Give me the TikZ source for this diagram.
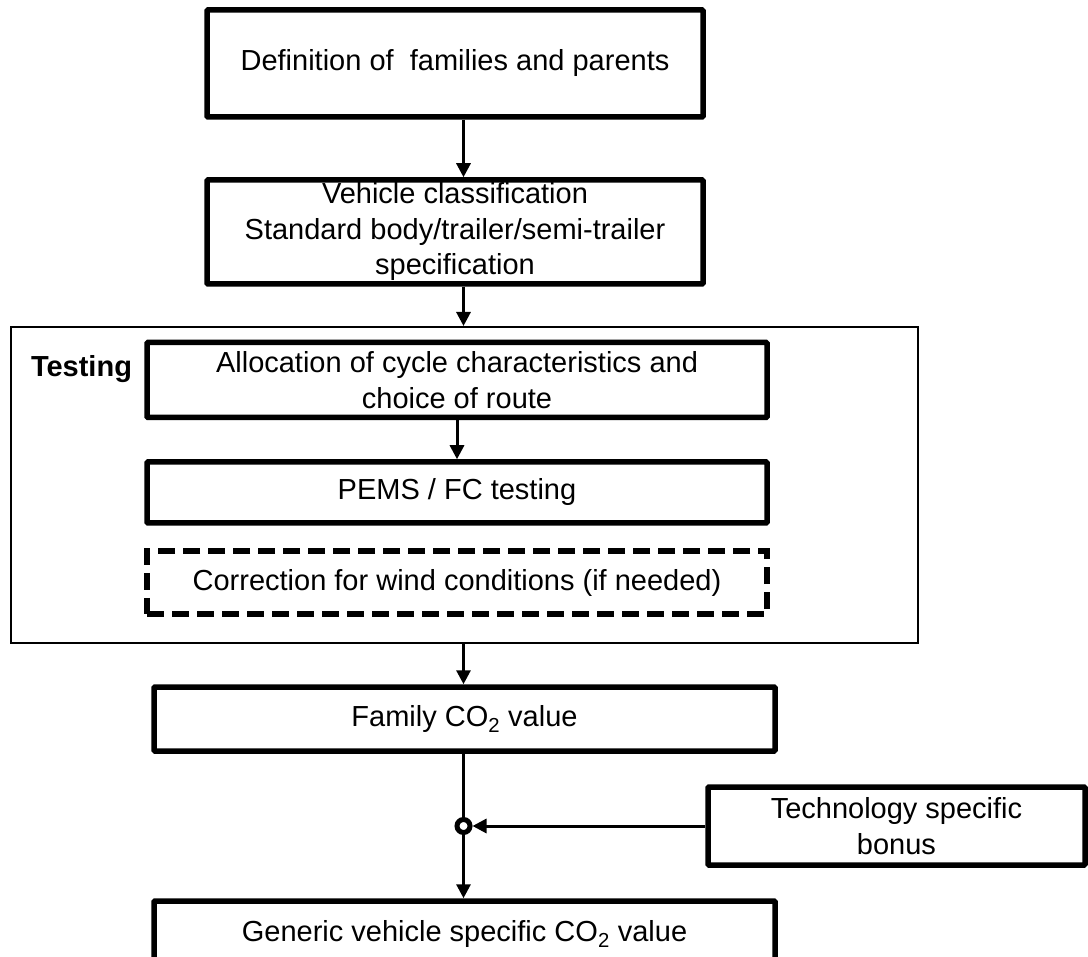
\documentclass[tikz,border=0pt]{standalone}
\usepackage{fontspec}
\setmainfont{Liberation Sans}
\usetikzlibrary{arrows.meta}
\begin{document}
\begin{tikzpicture}[x=1pt,y=-1pt,
  txt/.style={font=\fontsize{29pt}{35.5pt}\selectfont, align=center, inner sep=0pt},
  box/.style={txt, draw, line width=5.5pt, rounded corners=1pt},
  dbox/.style={txt, draw, line width=5.5pt, dash pattern=on 17pt off 8pt},
  frame/.style={draw, line width=2pt, inner sep=0pt},
  arr/.style={line width=3pt, -{Triangle[length=14pt,width=14pt]}},
  plain/.style={line width=3pt},
  junction/.style={circle, draw, line width=5pt, fill=white, minimum size=13pt, inner sep=0pt}
]
\useasboundingbox (0,0) rectangle (1088,957);
\clip (0,0) rectangle (1088,957);
\coordinate (col) at (463.5,0);

\node[box, minimum width=496pt, minimum height=107pt] (b1) at (455,63.5) {Definition of \ families and parents};
\node[box, minimum width=496pt, minimum height=104pt] (b2) at (455,232) {Vehicle classification\\Standard body/trailer/semi-trailer\\specification};

\node[frame, minimum width=907pt, minimum height=316pt] (test) at (464.5,485) {};
\node[txt, font=\fontsize{29pt}{35.5pt}\selectfont\bfseries] (tlabel) at (81.5,369) {Testing};

\node[box, minimum width=620pt, minimum height=75pt] (alloc) at (457,380) {Allocation of cycle characteristics and\\choice of route};
\node[box, minimum width=620pt, minimum height=61pt] (pems) at (457,492.5) {PEMS / FC testing};
\node[dbox, minimum width=620pt, minimum height=63pt] (wind) at (457,582.5) {Correction for wind conditions (if needed)};

\node[box, minimum width=621pt, minimum height=64pt] (fam) at (464.5,719) {Family CO\textsubscript{2} value};
\node[junction] (circ) at (463.5,826) {};
\node[box, minimum width=377pt, minimum height=78pt] (tech) at (896.5,826) {Technology specific\\bonus};
\node[box, minimum width=621pt, minimum height=66pt] (gen) at (464.5,934) {Generic vehicle specific CO\textsubscript{2} value};

\draw[arr] (b1.south -| col) -- (b2.north -| col);
\draw[arr] (b2.south -| col) -- (test.north -| col);
\draw[arr] (alloc.south) -- (pems.north);
\draw[arr] (test.south -| col) -- (fam.north -| col);
\draw[plain] (fam.south -| col) -- (circ.north);
\draw[arr] (circ.south) -- (gen.north -| col);
\draw[arr] (tech.west) -- (circ.east);
\end{tikzpicture}
\end{document}
